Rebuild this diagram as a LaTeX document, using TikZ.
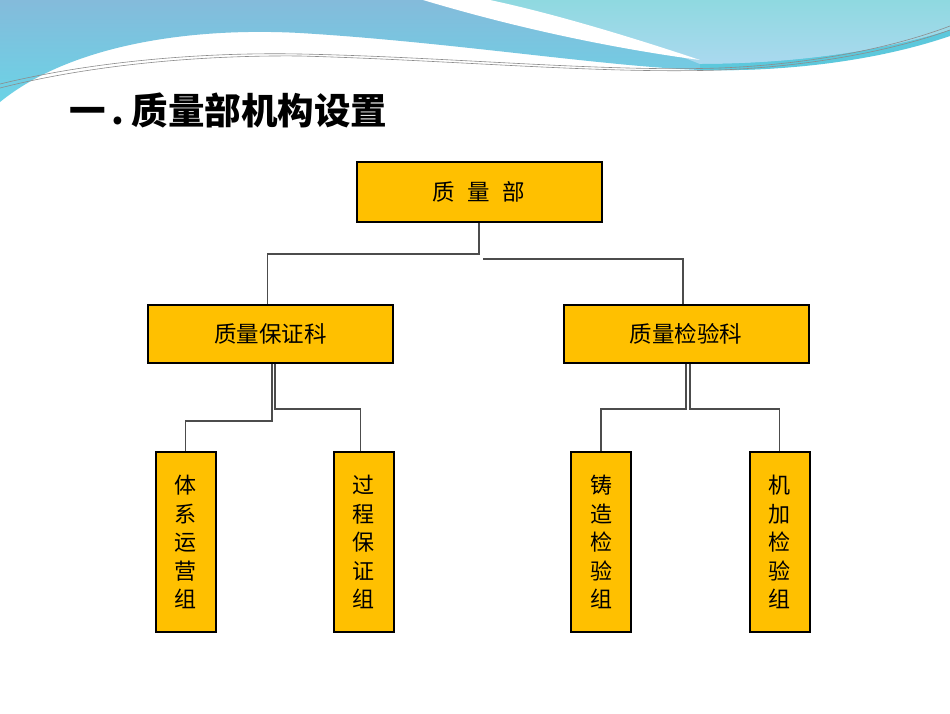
\documentclass[tikz,border=0pt]{standalone}
\usepackage{fontspec}
\newfontfamily\cjk{Noto Sans CJK SC}
\usetikzlibrary{positioning,calc}
\definecolor{boxgold}{HTML}{FFC000}
\definecolor{waveblue}{HTML}{84BBDB}
\definecolor{wavecyan}{HTML}{6BD3E6}
\definecolor{waveaqua}{HTML}{8FD9E0}
\definecolor{wavesky}{HTML}{AAD9EF}
\definecolor{wavedeep}{HTML}{5CC8DC}

\begin{document}
\begin{tikzpicture}[x=1pt, y=-1pt,
    unit/.style={draw, line width=2pt, fill=boxgold, minimum width=245pt, minimum height=58pt, font=\cjk\fontsize{22.5}{26}\selectfont},
    grp/.style={draw, line width=2pt, fill=boxgold, minimum width=60pt, minimum height=180pt, align=center, font=\cjk\fontsize{22}{28.5}\selectfont},
    conn/.style={draw=black!70, line width=1.2pt},
    swirl/.style={draw=black!45, line width=0.6pt}
]
\useasboundingbox (0,0) rectangle (950,713);
\fill[white] (0,0) rectangle (950,713);

\shade[top color=waveblue, bottom color=wavecyan] (0,0) -- (950,0) -- (950,30)
    .. controls (880,58) and (790,72) .. (700,70)
    .. controls (600,66) and (450,42) .. (300,33)
    .. controls (190,27) and (70,45) .. (0,102) -- cycle;
\shade[top color=waveaqua, bottom color=wavesky] (480,0) -- (950,0) -- (950,30)
    .. controls (880,52) and (790,64) .. (700,64)
    .. controls (640,40) and (560,15) .. cycle;
\fill[wavedeep] (700,64) .. controls (790,64) and (880,52) .. (950,30) -- (950,36)
    .. controls (880,60) and (790,72) .. (700,70) -- cycle;
\fill[white] (423,0) -- (490,0) .. controls (560,15) and (640,40) .. (700,60)
    .. controls (640,52) and (540,35) .. (423,0) -- cycle;
\draw[swirl] (0,84) .. controls (90,62) and (200,52) .. (300,54)
    .. controls (450,57) and (600,72) .. (720,68) .. controls (820,64) and (900,45) .. (950,26);
\draw[swirl] (0,88) .. controls (90,65) and (200,55) .. (300,56)
    .. controls (450,60) and (600,74) .. (720,70) .. controls (820,66) and (900,48) .. (950,30);

\node[anchor=west, font=\cjk\bfseries\fontsize{36.5}{40}\selectfont] (title) at (66,110) {一\hspace{0.15em}.\hspace{0.2em}质量部机构设置};

\node[unit, minimum height=60pt] (zlb) at (479,192) {质\hspace{0.55em}量\hspace{0.55em}部};
\node[unit] (bzk) at (270.5,334) {质量保证科};
\node[unit] (jyk) at (686,334) {质量检验科};

\node[grp] (txz) at (185.5,542) {体\\系\\运\\营\\组};
\node[grp] (gcz) at (363.5,542) {过\\程\\保\\证\\组};
\node[grp] (zzz) at (601,542) {铸\\造\\检\\验\\组};
\node[grp] (jjz) at (779.5,542) {机\\加\\检\\验\\组};

\coordinate (zlbr) at (483,259);

\draw[conn] (zlb.south) -- ++(0,31) -| ([xshift=-3pt]bzk.north);
\draw[conn] (zlbr) -| ([xshift=-3pt]jyk.north);
\draw[conn] ([xshift=1.5pt]bzk.south) -- ++(0,57) -| (txz.north);
\draw[conn] ([xshift=4.5pt]bzk.south) -- ++(0,45) -| ([xshift=-3pt]gcz.north);
\draw[conn] (jyk.south) -- ++(0,45) -| (zzz.north);
\draw[conn] ([xshift=4pt]jyk.south) -- ++(0,45) -| (jjz.north);
\end{tikzpicture}
\end{document}
